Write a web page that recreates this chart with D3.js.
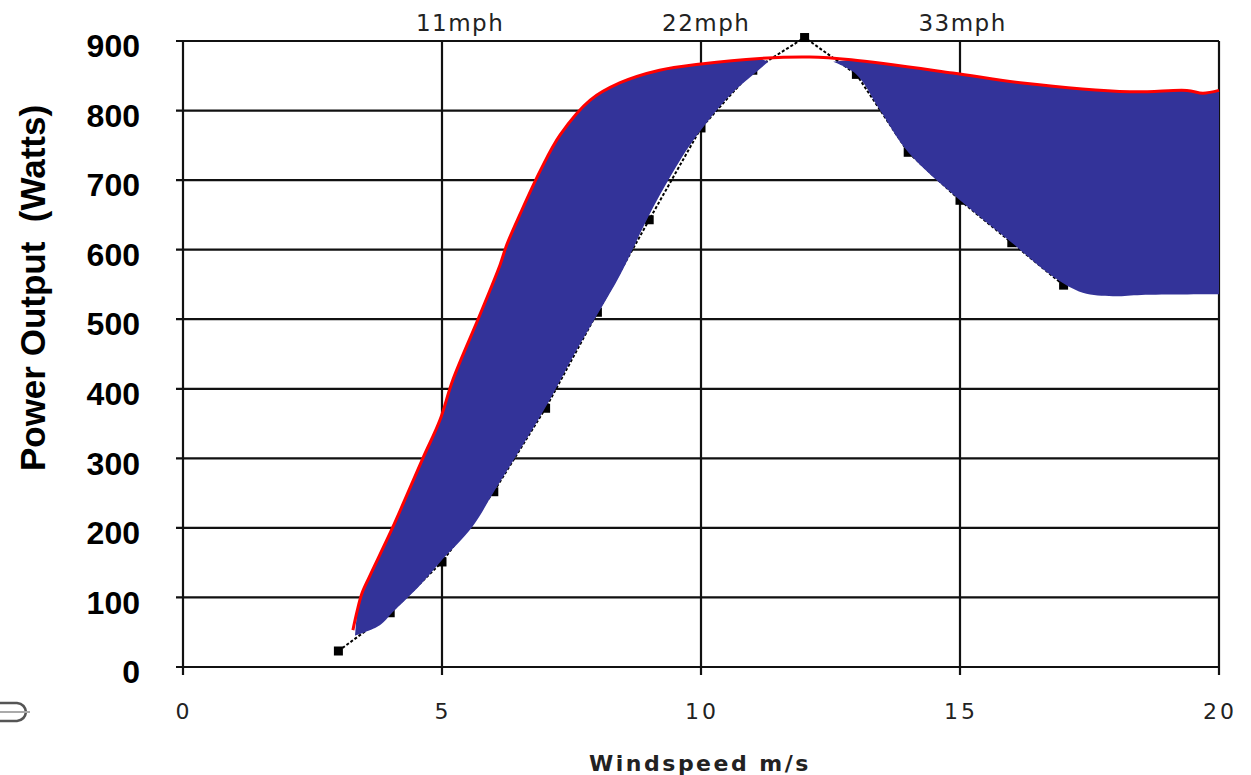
<!DOCTYPE html>
<html>
<head>
<meta charset="utf-8">
<script src="https://cdn.jsdelivr.net/npm/d3@7"></script>
<style>
  body { margin: 0; background: #fff; }
</style>
</head>
<body>
<div id="chart"></div>
<script>
const width = 1251,
    height = 775;

// measured turbine output (black squares, dotted line)
const speeds = [3, 4, 5, 6, 7, 8, 9, 10, 11, 12, 13, 14, 15, 16, 17];
const measured = [23, 78, 151, 252, 372, 510, 643, 775, 858, 905, 852, 740, 671, 610, 549];

// red curve (upper edge of the blue band)
const ratedSpeed = [3.28, 3.36, 3.45, 3.6, 4.05, 4.63, 4.96, 5.21, 5.73, 6.12, 6.25, 6.5, 6.9, 7.28, 7.86, 8.44, 9.2, 10, 11.14, 12.1, 12.9, 14.86, 16.16, 18.28, 19.38, 19.69, 20];
const ratedPower = [53, 80, 105, 130, 201, 300, 355, 413, 506, 578, 607, 650, 714, 765, 815, 840, 858, 867, 875, 877, 873, 854, 840, 827, 829, 825, 829];

// lower edges of the two blue blobs
const lowLeftSpeed = [3.32, 3.8, 4.05, 4.58, 5.0, 5.58, 6.02, 6.5, 7.08, 7.6, 8.44, 9.0, 9.6, 10, 10.56, 11.0, 11.3];
const lowLeftPower = [45, 60, 79, 118, 154, 201, 254, 312, 384, 456, 564, 650, 729, 772, 822, 851, 870];
const lowRightSpeed = [12.55, 13, 13.46, 14, 15, 16, 16.8, 17.37, 17.95, 18.5, 20];
const lowRightPower = [870, 852, 800, 740, 671, 610, 561, 538, 533, 535, 536];

const yTicks = [0, 100, 200, 300, 400, 500, 600, 700, 800, 900];
const xTicks = [0, 5, 10, 15, 20];
const mphLabels = ["11mph", "22mph", "33mph"];
const mphPos = [5.35, 10.1, 15.05];

const x = d3.scaleLinear().domain([0, 20]).range([183, 1219]);
const y = d3.scaleLinear().domain([0, 900]).range([667, 41]);

const svg = d3.select("#chart")
    .append("svg")
    .attr("width", width)
    .attr("height", height)
    .style("font-family", "'Liberation Sans', Arial, sans-serif");

svg.append("rect").attr("width", width).attr("height", height).attr("fill", "#fff");

// grid
svg.selectAll(null)
    .data(yTicks)
    .join("line")
    .attr("x1", x(0) - 7)
    .attr("x2", x(20))
    .attr("y1", d => y(d))
    .attr("y2", d => y(d))
    .attr("stroke", "#111")
    .attr("stroke-width", 2.2);

svg.selectAll(null)
    .data(xTicks)
    .join("line")
    .attr("x1", d => x(d))
    .attr("x2", d => x(d))
    .attr("y1", y(900))
    .attr("y2", y(0) + 8)
    .attr("stroke", "#111")
    .attr("stroke-width", 2.2);

// y axis labels
const yAxis = svg.append("g")
    .attr("transform", `translate(${x(0)},0)`)
    .call(d3.axisLeft(y).tickValues(yTicks).tickSize(0).tickPadding(43));
yAxis.select(".domain").remove();
yAxis.selectAll("text")
    .attr("dy", "0.49em")
    .style("font-family", "'Liberation Sans', Arial, sans-serif")
    .style("font-size", "32px")
    .style("font-weight", "bold")
    .attr("fill", "#000");

// x axis labels
svg.selectAll(null)
    .data(xTicks)
    .join("text")
    .attr("x", d => x(d) + 1)
    .attr("y", 719)
    .attr("text-anchor", "middle")
    .style("font-family", "'DejaVu Sans', sans-serif")
    .style("font-size", "22px")
    .style("letter-spacing", "3px")
    .attr("fill", "#222")
    .text(d => d);

svg.append("text")
    .attr("x", 700)
    .attr("y", 771)
    .attr("text-anchor", "middle")
    .style("font-family", "'DejaVu Sans', sans-serif")
    .style("font-size", "22px")
    .style("font-weight", "bold")
    .style("letter-spacing", "2.5px")
    .attr("fill", "#222")
    .text("Windspeed m/s");

svg.selectAll(null)
    .data(mphLabels)
    .join("text")
    .attr("x", (d, i) => x(mphPos[i]))
    .attr("y", 31)
    .attr("text-anchor", "middle")
    .style("font-family", "'DejaVu Sans', sans-serif")
    .style("font-size", "23px")
    .style("letter-spacing", "1.5px")
    .attr("fill", "#222")
    .text(d => d);

svg.append("text")
    .attr("transform", `translate(45,${288}) rotate(-90)`)
    .attr("text-anchor", "middle")
    .style("font-size", "35px")
    .style("font-weight", "bold")
    .style("white-space", "pre")
    .attr("fill", "#000")
    .text("Power Output  (Watts)");

// measured dotted line + squares
const pts = speeds.map((s, i) => [s, measured[i]]);
svg.append("path")
    .datum(pts)
    .attr("d", d3.line().x(d => x(d[0])).y(d => y(d[1])))
    .attr("fill", "none")
    .attr("stroke", "#000")
    .attr("stroke-width", 2)
    .attr("stroke-dasharray", "3,2");

svg.selectAll(null)
    .data(pts)
    .join("rect")
    .attr("x", d => x(d[0]) - 4.5)
    .attr("y", d => y(d[1]) - 4.5)
    .attr("width", 9)
    .attr("height", 9)
    .attr("fill", "#000");

// blue band between the red curve and the lower edge
const rated = ratedSpeed.map((s, i) => [s, ratedPower[i]]);
const smooth = d3.line().x(d => x(d[0])).y(d => y(d[1])).curve(d3.curveCatmullRom);

function blob(lowS, lowP) {
    const low = lowS.map((s, i) => [s, lowP[i]]);
    const lo = low[0][0], hi = low[low.length - 1][0];
    const up = rated.filter(d => d[0] >= lo && d[0] <= hi).reverse();
    return smooth(low) + smooth(up).replace(/^M/, "L") + "Z";
}

svg.append("path")
    .attr("d", blob(lowLeftSpeed, lowLeftPower))
    .attr("fill", "#333399");
svg.append("path")
    .attr("d", blob(lowRightSpeed, lowRightPower))
    .attr("fill", "#333399");

svg.append("path")
    .datum(rated)
    .attr("d", smooth)
    .attr("fill", "none")
    .attr("stroke", "#ff0000")
    .attr("stroke-width", 3);

// clipped picture fragment at the bottom left
svg.append("path")
    .attr("d", "M0,703 L17,703 Q25,704 26,712 Q25,720 17,721 L0,721")
    .attr("fill", "none")
    .attr("stroke", "#555")
    .attr("stroke-width", 2.5);
svg.append("line")
    .attr("x1", 0).attr("x2", 30).attr("y1", 712).attr("y2", 712)
    .attr("stroke", "#aaa")
    .attr("stroke-width", 2);
</script>
</body>
</html>
